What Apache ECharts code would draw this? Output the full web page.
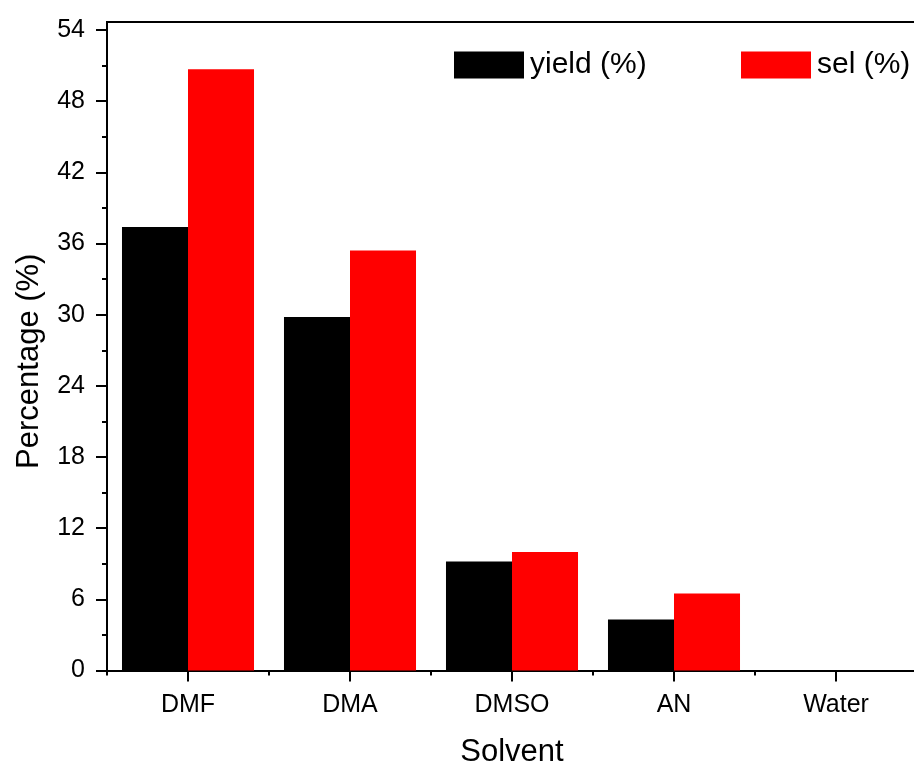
<!DOCTYPE html>
<html>
<head>
<meta charset="utf-8">
<script src="https://cdn.jsdelivr.net/npm/echarts@6/dist/echarts.min.js"></script>
<style>
  html, body { margin: 0; padding: 0; background: #fff; overflow: hidden; }
  #chart { width: 914px; height: 762px; }
</style>
</head>
<body>
<div id="chart"></div>
<script>
// Solvent screening: yield and selectivity per solvent
const solvents = ['DMF', 'DMA', 'DMSO', 'AN', 'Water'];
const yieldPct = [37.4, 29.8, 9.2, 4.3, 0];
const selPct = [50.7, 35.4, 10.0, 6.5, 0];
const yTicks = { min: 0, max: 54, interval: 6 };

const FONT = 'Arial, "Liberation Sans", sans-serif';
const chart = echarts.init(document.getElementById('chart'), null, { renderer: 'canvas' });

const gridLeft = 107, gridTop = 30, gridBottom = 91.5;
const frameTop = 22;

chart.setOption({
  animation: false,
  backgroundColor: '#ffffff',
  textStyle: { fontFamily: FONT, color: '#000' },
  grid: {
    left: gridLeft, right: -3, top: gridTop, bottom: gridBottom,
    containLabel: false, outerBoundsMode: 'none'
  },
  legend: [
    {
      data: ['yield (%)'], left: 449, top: 45, icon: 'rect',
      itemWidth: 70, itemHeight: 27,
      textStyle: { fontFamily: FONT, fontSize: 30, color: '#000', padding: [0, 0, 0, 1] }
    },
    {
      data: ['sel (%)'], left: 736, top: 45, icon: 'rect',
      itemWidth: 70, itemHeight: 27,
      textStyle: { fontFamily: FONT, fontSize: 30, color: '#000', padding: [0, 0, 0, 1] }
    }
  ],
  xAxis: [
    {
      type: 'category', data: solvents, position: 'bottom',
      name: 'Solvent', nameLocation: 'middle', nameGap: 66,
      nameTextStyle: { fontFamily: FONT, fontSize: 31, color: '#000' },
      axisLine: { lineStyle: { color: '#000', width: 2 } },
      axisTick: { show: true, inside: false, length: 5, lineStyle: { color: '#000', width: 2 } },
      axisLabel: { fontFamily: FONT, fontSize: 25, color: '#000', margin: 22 },
      splitLine: { show: false }
    },
    {
      type: 'category', data: solvents, position: 'bottom',
      axisLine: { show: false },
      axisTick: { show: true, alignWithLabel: true, inside: false, length: 11, lineStyle: { color: '#000', width: 2 } },
      axisLabel: { show: false },
      splitLine: { show: false }
    }
  ],
  yAxis: {
    type: 'value', min: yTicks.min, max: yTicks.max, interval: yTicks.interval,
    name: 'Percentage (%)', nameLocation: 'middle', nameGap: 62,
    nameTextStyle: { fontFamily: FONT, fontSize: 31, color: '#000', padding: [0, 22, 0, 0] },
    axisLine: { show: true, lineStyle: { color: '#000', width: 2 } },
    axisTick: { show: true, inside: false, length: 11, lineStyle: { color: '#000', width: 2 } },
    minorTick: { show: true, splitNumber: 2, length: 5, lineStyle: { color: '#000', width: 2 } },
    axisLabel: { fontFamily: FONT, fontSize: 25, color: '#000', margin: 22 },
    splitLine: { show: false }
  },
  series: [
    {
      name: 'yield (%)', type: 'bar', data: yieldPct,
      barGap: '0%', barCategoryGap: '18.5%',
      itemStyle: { color: '#000000' }
    },
    {
      name: 'sel (%)', type: 'bar', data: selPct,
      barGap: '0%', barCategoryGap: '18.5%',
      itemStyle: { color: '#ff0000' }
    }
  ],
  // frame lines above the last tick: left axis extension and top border
  graphic: [
    {
      type: 'line', silent: true,
      shape: { x1: gridLeft, y1: frameTop, x2: gridLeft, y2: gridTop },
      style: { stroke: '#000', lineWidth: 2 }
    },
    {
      type: 'line', silent: true,
      shape: { x1: gridLeft - 1, y1: frameTop, x2: 914, y2: frameTop },
      style: { stroke: '#000', lineWidth: 2 }
    }
  ]
});
</script>
</body>
</html>
